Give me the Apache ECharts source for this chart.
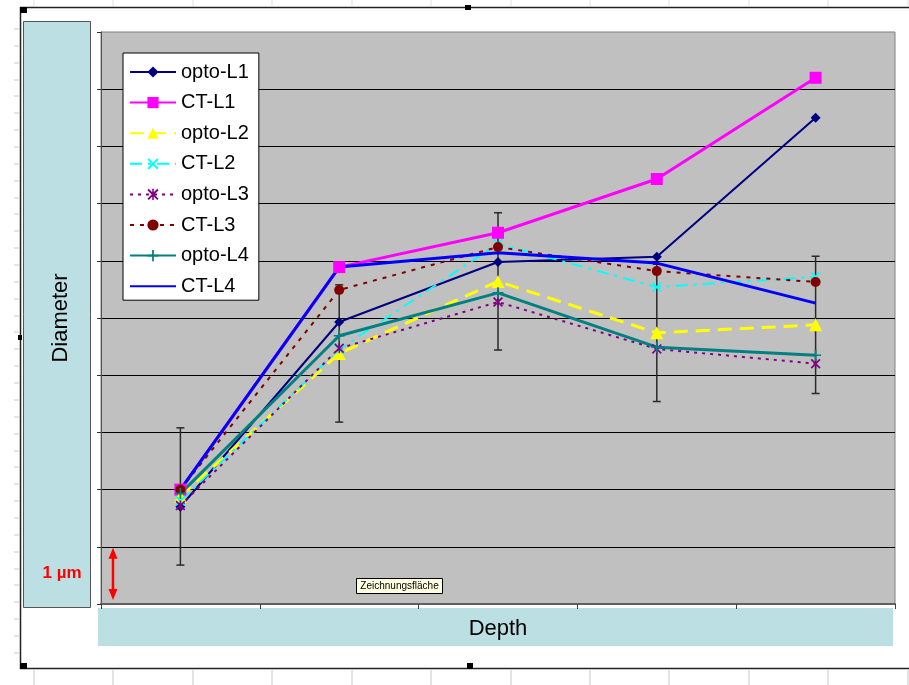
<!DOCTYPE html>
<html>
<head>
<meta charset="utf-8">
<script src="https://cdn.jsdelivr.net/npm/echarts@6/dist/echarts.min.js"></script>
<style>
html,body{margin:0;padding:0;background:#fff;}
#chart{width:909px;height:685px;}
</style>
</head>
<body>
<div id="chart"></div>
<script>
// ---- data ----
var categories = ['1', '2', '3', '4', '5'];
var optoL1 = [1.70, 4.93, 5.98, 6.07, 8.50];
var ctL1   = [2.00, 5.89, 6.49, 7.43, 9.20];
var optoL2 = [1.88, 4.38, 5.64, 4.74, 4.88];
var ctL2   = [1.80, 4.45, 6.30, 5.54, 5.72];
var optoL3 = [1.72, 4.47, 5.28, 4.46, 4.20];
var ctL3   = [2.00, 5.49, 6.24, 5.82, 5.63];
var optoL4 = [1.93, 4.69, 5.44, 4.49, 4.35];
var ctL4   = [2.00, 5.89, 6.14, 5.96, 5.26];
var optoL2Err = [1.2, 1.2, 1.2, 1.2, 1.2];
var seriesNames = ['opto-L1', 'CT-L1', 'opto-L2', 'CT-L2', 'opto-L3', 'CT-L3', 'opto-L4', 'CT-L4'];

var FONT = '"Liberation Sans", Arial, sans-serif';
var X_PATH = 'path://M0,1.2 L1.2,0 L5,3.8 L8.8,0 L10,1.2 L6.2,5 L10,8.8 L8.8,10 L5,6.2 L1.2,10 L0,8.8 L3.8,5 Z';
var STAR_PATH = 'path://M0,1.2 L1.2,0 L5,3.8 L8.8,0 L10,1.2 L6.2,5 L10,8.8 L8.8,10 L5,6.2 L1.2,10 L0,8.8 L3.8,5 Z M4.3,0 L5.7,0 L5.7,10 L4.3,10 Z';
var PLUS_PATH = 'path://M4.2,0 L5.8,0 L5.8,10 L4.2,10 Z M0,4.3 L10,4.3 L10,5.7 L0,5.7 Z';

function lineSeries(name, data, color, width, type, symbol, symbolSize, markerColor) {
  return {
    name: name, type: 'line', data: data,
    symbol: symbol, symbolSize: symbolSize, showSymbol: true,
    lineStyle: { color: color, width: width, type: type, cap: 'butt' },
    itemStyle: { color: markerColor || color, borderWidth: 0 },
    emphasis: { disabled: true },
    animation: false, z: 3
  };
}

var errData = categories.map(function (c, i) {
  return [i, optoL2[i] - optoL2Err[i], optoL2[i] + optoL2Err[i]];
});

var chart = echarts.init(document.getElementById('chart'), null, { renderer: 'canvas' });

var option = {
  backgroundColor: '#ffffff',
  animation: false,
  grid: {
    left: 101, right: 14, top: 32, bottom: 81,
    show: true, backgroundColor: '#C0C0C0', borderColor: '#808080', borderWidth: 1
  },
  xAxis: {
    type: 'category', data: categories, boundaryGap: true,
    name: 'Depth', nameLocation: 'middle', nameGap: 14,
    nameTextStyle: { fontFamily: FONT, fontSize: 22, color: '#000', verticalAlign: 'top' },
    axisLine: { show: true, lineStyle: { color: '#606060', width: 2 } },
    axisTick: { show: true, inside: false, length: 5, alignWithLabel: false, lineStyle: { color: '#404040', width: 1 } },
    axisLabel: { show: false },
    splitLine: { show: false }
  },
  yAxis: {
    type: 'value', min: 0, max: 10, interval: 1,
    name: 'Diameter', nameLocation: 'middle', nameGap: 29, nameRotate: 90,
    nameTextStyle: { fontFamily: FONT, fontSize: 22, color: '#000' },
    axisLine: { show: true, lineStyle: { color: '#505050', width: 1 } },
    axisTick: { show: true, inside: false, length: 4, lineStyle: { color: '#303030', width: 1 } },
    axisLabel: { show: false },
    splitLine: { show: true, showMinLine: false, showMaxLine: false, lineStyle: { color: '#000', width: 1 } }
  },
  legend: {
    show: true, orient: 'vertical', left: 123, top: 53,
    data: seriesNames,
    backgroundColor: '#ffffff', borderColor: '#000', borderWidth: 1,
    padding: [8, 10, 3, 6],
    itemWidth: 46, itemHeight: 14, itemGap: 8.6,
    textStyle: { fontFamily: FONT, fontSize: 20, color: '#000', lineHeight: 22 },
    selectedMode: false
  },
  tooltip: { show: false },
  series: [
    {
      name: 'opto-L2 error', type: 'custom', data: errData, z: 2,
      encode: { x: 0, y: [1, 2] },
      renderItem: function (params, api) {
        var lo = api.coord([api.value(0), api.value(1)]);
        var hi = api.coord([api.value(0), api.value(2)]);
        var w = 4;
        var st = { stroke: '#2a2a2a', lineWidth: 1.5 };
        return {
          type: 'group', children: [
            { type: 'line', shape: { x1: lo[0], y1: lo[1], x2: hi[0], y2: hi[1] }, style: st },
            { type: 'line', shape: { x1: lo[0] - w, y1: lo[1], x2: lo[0] + w, y2: lo[1] }, style: st },
            { type: 'line', shape: { x1: hi[0] - w, y1: hi[1], x2: hi[0] + w, y2: hi[1] }, style: st }
          ]
        };
      }
    },
    lineSeries('opto-L1', optoL1, '#000080', 2, 'solid', 'diamond', 10),
    lineSeries('CT-L1', ctL1, '#FF00FF', 3, 'solid', 'rect', 12),
    lineSeries('opto-L2', optoL2, '#FFFF00', 3, [14, 8], 'triangle', 13),
    lineSeries('CT-L2', ctL2, '#00FFFF', 2, [12, 6, 3, 6], X_PATH, 10),
    lineSeries('opto-L3', optoL3, '#800080', 2, [3, 5], STAR_PATH, 10),
    lineSeries('CT-L3', ctL3, '#800000', 2, [4, 6], 'circle', 10),
    lineSeries('opto-L4', optoL4, '#008080', 3, 'solid', PLUS_PATH, 11),
    lineSeries('CT-L4', ctL4, '#0000FF', 3, 'solid', 'circle', 0, 'rgba(0,0,0,0)')
  ]
};
chart.setOption(option);

// ---- decorations (frame, title boxes, scale annotation) ----
var y0 = chart.convertToPixel({ yAxisIndex: 0 }, 0);
var y1 = chart.convertToPixel({ yAxisIndex: 0 }, 1);
var ax = 113;
var g = [];
// spreadsheet background grid (faint)
var cols = [34, 113, 193, 272, 352, 431, 511, 590, 669, 749, 828, 908];
cols.forEach(function (x) {
  g.push({ type: 'line', z: -20, shape: { x1: x, y1: 670, x2: x, y2: 685 }, style: { stroke: '#c8c8c8', lineWidth: 1 } });
  g.push({ type: 'line', z: -20, shape: { x1: x, y1: 0, x2: x, y2: 6 }, style: { stroke: '#e0e0e0', lineWidth: 1 } });
});
for (var r = 29; r < 669; r += 16.86) {
  g.push({ type: 'line', z: -20, shape: { x1: 14, y1: Math.round(r), x2: 19, y2: Math.round(r) }, style: { stroke: '#c8c8c8', lineWidth: 1 } });
}
// outer chart frame
g.push({ type: 'polyline', z: -5, shape: { points: [[909, 7.5], [20.5, 7.5], [20.5, 668.5], [909, 668.5]] }, style: { stroke: '#222', lineWidth: 1.5, fill: null } });
// selection handles
[[20, 7, 7, 6], [465, 5, 6, 5], [20, 663, 7, 6], [467, 663, 6, 6], [18, 335, 4, 5]].forEach(function (h) {
  g.push({ type: 'rect', z: 50, shape: { x: h[0], y: h[1], width: h[2], height: h[3] }, style: { fill: '#000' } });
});
// axis title boxes
g.push({ type: 'rect', z: -10, shape: { x: 23.5, y: 21.5, width: 67, height: 586 }, style: { fill: '#BCDFE3', stroke: '#555', lineWidth: 1 } });
g.push({ type: 'rect', z: -10, shape: { x: 98, y: 608, width: 795, height: 38 }, style: { fill: '#BCDFE3' } });
// 1 µm scale annotation
g.push({ type: 'text', z: 50, style: { text: '1 µm', x: 62, y: 573, fill: '#FF0000', font: 'bold 17px ' + FONT, align: 'center', verticalAlign: 'middle' } });
g.push({ type: 'line', z: 50, shape: { x1: ax, y1: y1 + 8, x2: ax, y2: y0 - 10 }, style: { stroke: '#FF0000', lineWidth: 2.5 } });
g.push({ type: 'polygon', z: 50, shape: { points: [[ax, y1 + 1], [ax - 4.5, y1 + 12], [ax + 4.5, y1 + 12]] }, style: { fill: '#FF0000' } });
g.push({ type: 'polygon', z: 50, shape: { points: [[ax, y0 - 4], [ax - 4.5, y0 - 15], [ax + 4.5, y0 - 15]] }, style: { fill: '#FF0000' } });
// Excel hover tooltip
g.push({ type: 'rect', z: 60, shape: { x: 356.5, y: 578.5, width: 86, height: 15 }, style: { fill: '#FFFFE1', stroke: '#000', lineWidth: 1 } });
g.push({ type: 'text', z: 61, style: { text: 'Zeichnungsfläche', x: 399.5, y: 586.5, fill: '#000', font: '10px ' + FONT, align: 'center', verticalAlign: 'middle' } });
chart.setOption({ graphic: g });
</script>
</body>
</html>
